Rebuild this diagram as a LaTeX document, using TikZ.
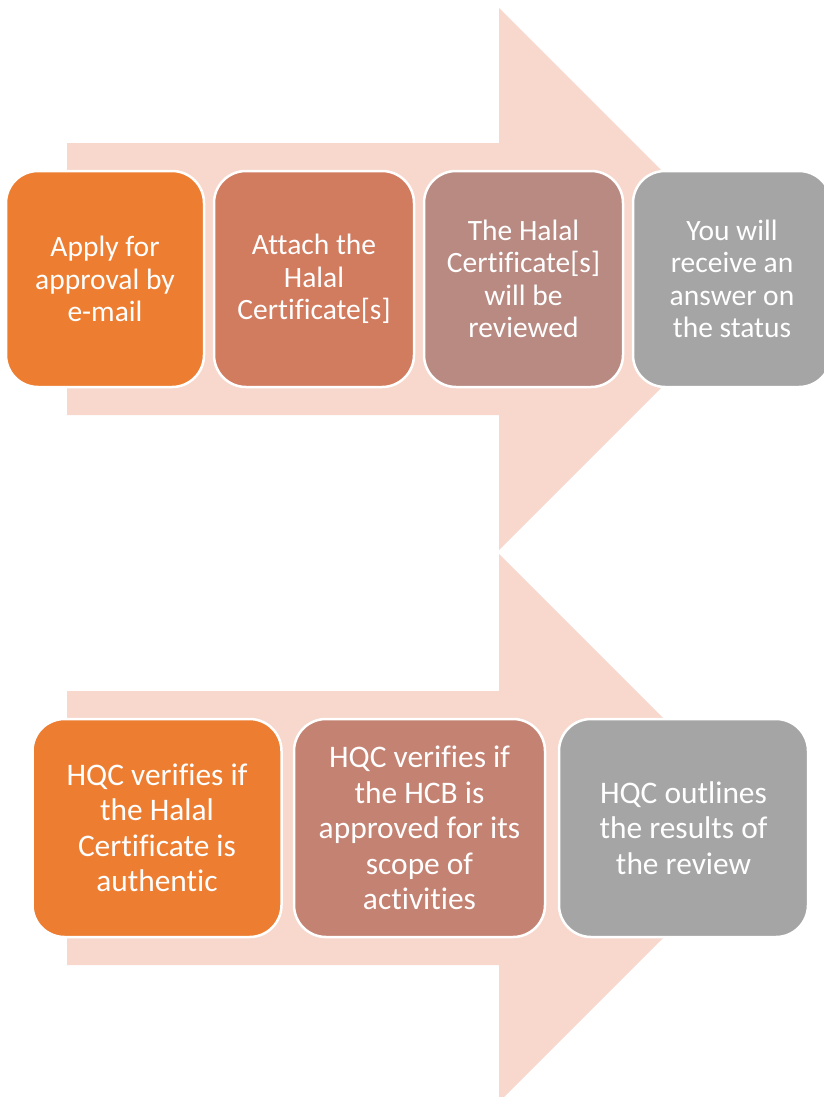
\documentclass[tikz,border=0pt]{standalone}
\usepackage{fontspec}
\setmainfont[Ligatures={NoCommon,NoRare}]{Carlito}
\definecolor{arrowc}{HTML}{F8D8CC}
\definecolor{cA}{HTML}{ED7D31}
\definecolor{cB}{HTML}{D17B5F}
\definecolor{cC}{HTML}{B88A82}
\definecolor{cD}{HTML}{A5A5A5}
\definecolor{cE}{HTML}{C48272}
\begin{document}
\begin{tikzpicture}[x=1pt,y=-1pt,
  stepbox/.style={draw=white, line width=2.5pt, rounded corners=32pt, text=white, align=center, inner sep=0pt},
  topbox/.style={stepbox, minimum width=198pt, minimum height=216pt, font=\fontsize{29.5}{32.5}\selectfont},
  botbox/.style={stepbox, minimum width=249pt, minimum height=218pt, font=\fontsize{31.4}{35.5}\selectfont},
  bigarrow/.style={fill=arrowc, draw=none}]
\useasboundingbox (0,0) rectangle (824,1097);
\clip (0,0) rectangle (824,1097);
% top arrow
\fill[bigarrow] (67,143) -- (499,143) -- (499,8) -- (770,279) -- (499,550) -- (499,415) -- (67,415) -- cycle;
% bottom arrow
\fill[bigarrow] (67,691) -- (499,691) -- (499,554) -- (773,828) -- (499,1102) -- (499,965) -- (67,965) -- cycle;
% top boxes
\node[topbox, fill=cA] (t1) at (105,279) {Apply for\\approval by\\e-mail};
\node[topbox, fill=cB, minimum width=200pt] (t2) at (314,279) {Attach the\\Halal\\Certificate[s]};
\node[topbox, fill=cC, minimum width=199pt] (t3) at (523.5,279) {The Halal\\Certificate[s]\\will be\\reviewed};
\node[topbox, fill=cD] (t4) at (732,279) {You will\\receive an\\answer on\\the status};
% bottom boxes
\node[botbox, fill=cA] (b1) at (157,828) {HQC verifies if\\the Halal\\Certificate is\\authentic};
\node[botbox, fill=cE, minimum width=251pt] (b2) at (419.5,828) {HQC verifies if\\the HCB is\\approved for its\\scope of\\activities};
\node[botbox, fill=cD] (b3) at (683.5,828) {HQC outlines\\the results of\\the review};
\end{tikzpicture}
\end{document}
